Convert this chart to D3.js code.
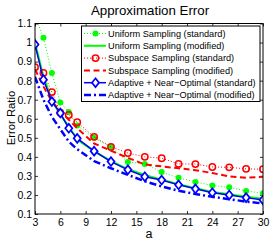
<!DOCTYPE html>
<html>
<head>
<meta charset="utf-8">
<script src="https://cdn.jsdelivr.net/npm/d3@7"></script>
<style>
  html, body { margin: 0; padding: 0; background: #fff; }
  svg { display: block; font-family: "Liberation Sans", Arial, sans-serif; }
</style>
</head>
<body>
<svg id="chart" width="273" height="245"></svg>
<script>
// ---- data ----
const aValues = [3, 4, 5, 6, 7, 8, 10, 12, 14, 16, 18, 20, 22, 24, 26, 28, 30];
const uniformStandard  = [1.14, 1.025, 0.84, 0.685, 0.635, 0.565, 0.50, 0.452, 0.373, 0.363, 0.32, 0.29, 0.268, 0.25, 0.24, 0.221, 0.209];
const uniformModified  = [1.00, 0.82, 0.70, 0.62, 0.56, 0.49, 0.43, 0.378, 0.335, 0.305, 0.28, 0.256, 0.235, 0.216, 0.204, 0.19, 0.18];
const subspaceStandard = [0.87, 0.84, 0.74, 0.632, 0.62, 0.582, 0.505, 0.452, 0.42, 0.40, 0.393, 0.363, 0.362, 0.347, 0.345, 0.337, 0.335];
const subspaceModified = [0.86, 0.77, 0.69, 0.64, 0.595, 0.55, 0.47, 0.432, 0.395, 0.36, 0.35, 0.34, 0.33, 0.315, 0.297, 0.29, 0.295];
const adaptiveStandard = [0.99, 0.805, 0.69, 0.63, 0.55, 0.497, 0.43, 0.375, 0.332, 0.296, 0.278, 0.253, 0.232, 0.212, 0.20, 0.186, 0.174];
const adaptiveModified = [0.82, 0.70, 0.61, 0.545, 0.48, 0.44, 0.378, 0.34, 0.305, 0.272, 0.245, 0.222, 0.205, 0.19, 0.178, 0.165, 0.155];
const seriesNames = [
  "Uniform Sampling (standard)",
  "Uniform Sampling (modified)",
  "Subspace Sampling (standard)",
  "Subspace Sampling (modified)",
  "Adaptive + Near\u2212Optimal (standard)",
  "Adaptive + Near\u2212Optimal (modified)"
];
const xTicks = [3, 6, 9, 12, 15, 18, 21, 24, 27, 30];
const yTicks = [0.1, 0.2, 0.3, 0.4, 0.5, 0.6, 0.7, 0.8, 0.9, 1, 1.1];
const titleText = "Approximation Error";
const xLabel = "a";
const yLabel = "Error Ratio";

// ---- styles ----
const styles = [
  { values: uniformStandard,  color: "#00ff00", width: 1,   dash: "1,2",     marker: "dot" },
  { values: uniformModified,  color: "#00ff00", width: 2,   dash: null,      marker: null },
  { values: subspaceStandard, color: "#ff0000", width: 1,   dash: "1,2",     marker: "circle" },
  { values: subspaceModified, color: "#ff0000", width: 2,   dash: "6,3.5",   marker: null },
  { values: adaptiveStandard, color: "#0000ff", width: 1.5, dash: null,      marker: "diamond" },
  { values: adaptiveModified, color: "#0000ff", width: 2.5, dash: "7,3,2,3", marker: null }
];

const svg = d3.select("#chart");
const pLeft = 35, pRight = 263, pTop = 23.5, pBottom = 214;

const x = d3.scaleLinear().domain([3, 30]).range([pLeft, pRight]);
const y = d3.scaleLinear().domain([0.1, 1.1]).range([pBottom, pTop]);

svg.append("defs").append("clipPath").attr("id", "plotclip")
  .append("rect").attr("x", pLeft).attr("y", pTop).attr("width", pRight - pLeft).attr("height", pBottom - pTop);

// axes
const fmtY = d => (d === 1 ? "1" : d3.format(".1f")(d));
const axL = svg.append("g").attr("transform", `translate(${pLeft},0)`)
  .call(d3.axisLeft(y).tickValues(yTicks).tickFormat(fmtY).tickSizeInner(-3).tickSizeOuter(0).tickPadding(3));
const axR = svg.append("g").attr("transform", `translate(${pRight},0)`)
  .call(d3.axisRight(y).tickValues(yTicks).tickFormat("").tickSizeInner(-3).tickSizeOuter(0));
const axB = svg.append("g").attr("transform", `translate(0,${pBottom})`)
  .call(d3.axisBottom(x).tickValues(xTicks).tickSizeInner(-3).tickSizeOuter(0).tickPadding(5));
const axT = svg.append("g").attr("transform", `translate(0,${pTop})`)
  .call(d3.axisTop(x).tickValues(xTicks).tickFormat("").tickSizeInner(-3).tickSizeOuter(0));
[axL, axR, axB, axT].forEach(g => {
  g.select(".domain").remove();
  g.selectAll("line").attr("stroke", "#000").attr("stroke-width", 0.8);
  g.selectAll("text").attr("font-size", 10.5).attr("fill", "#000")
    .attr("font-family", "Liberation Sans, Arial, sans-serif");
});

// data
const plot = svg.append("g").attr("clip-path", "url(#plotclip)");
const line = d3.line().x((d, i) => x(aValues[i])).y(d => y(d));

function drawMarker(g, kind, cx, cy, color) {
  if (kind === "dot") {
    g.append("circle").attr("cx", cx).attr("cy", cy).attr("r", 3).attr("fill", color);
  } else if (kind === "circle") {
    g.append("circle").attr("cx", cx).attr("cy", cy).attr("r", 3.2)
      .attr("fill", "none").attr("stroke", color).attr("stroke-width", 1.5);
  } else if (kind === "diamond") {
    const s = 4.4;
    g.append("path").attr("d", `M${cx},${cy - s}L${cx + s * 0.8},${cy}L${cx},${cy + s}L${cx - s * 0.8},${cy}Z`)
      .attr("fill", "#fff").attr("stroke", color).attr("stroke-width", 1.7);
  }
}

styles.forEach(s => {
  plot.append("path").datum(s.values)
    .attr("d", line)
    .attr("fill", "none")
    .attr("stroke", s.color)
    .attr("stroke-width", s.width)
    .attr("stroke-dasharray", s.dash)
    .attr("stroke-linejoin", "round");
  if (s.marker) {
    s.values.forEach((v, i) => drawMarker(plot, s.marker, x(aValues[i]), y(v), s.color));
  }
});

// box
svg.append("rect").attr("x", pLeft).attr("y", pTop).attr("width", pRight - pLeft).attr("height", pBottom - pTop)
  .attr("fill", "none").attr("stroke", "#000").attr("stroke-width", 1);

// legend
const lx = 81.5, ly = 26, lw = 178.5, lh = 75.5;
const lg = svg.append("g");
lg.append("rect").attr("x", lx).attr("y", ly).attr("width", lw).attr("height", lh)
  .attr("fill", "#fff").attr("stroke", "#000").attr("stroke-width", 1);
styles.forEach((s, i) => {
  const cy = 33.5 + i * 12.3;
  lg.append("line").attr("x1", 84).attr("x2", 106).attr("y1", cy).attr("y2", cy)
    .attr("stroke", s.color).attr("stroke-width", s.width).attr("stroke-dasharray", s.dash);
  if (s.marker) drawMarker(lg, s.marker, 95.5, cy, s.color);
  lg.append("text").attr("x", 108).attr("y", cy).attr("dy", "0.35em")
    .attr("font-size", 9.2).attr("fill", "#000").text(seriesNames[i]);
});

// title & labels
svg.append("text").attr("x", 150).attr("y", 15).attr("text-anchor", "middle")
  .attr("font-size", 13.3).attr("fill", "#000").text(titleText);
svg.append("text").attr("x", 149).attr("y", 238).attr("text-anchor", "middle")
  .attr("font-size", 12.5).attr("fill", "#000").text(xLabel);
svg.append("text").attr("transform", "translate(15,118) rotate(-90)").attr("text-anchor", "middle")
  .attr("font-size", 11.3).attr("fill", "#000").text(yLabel);
</script>
</body>
</html>
